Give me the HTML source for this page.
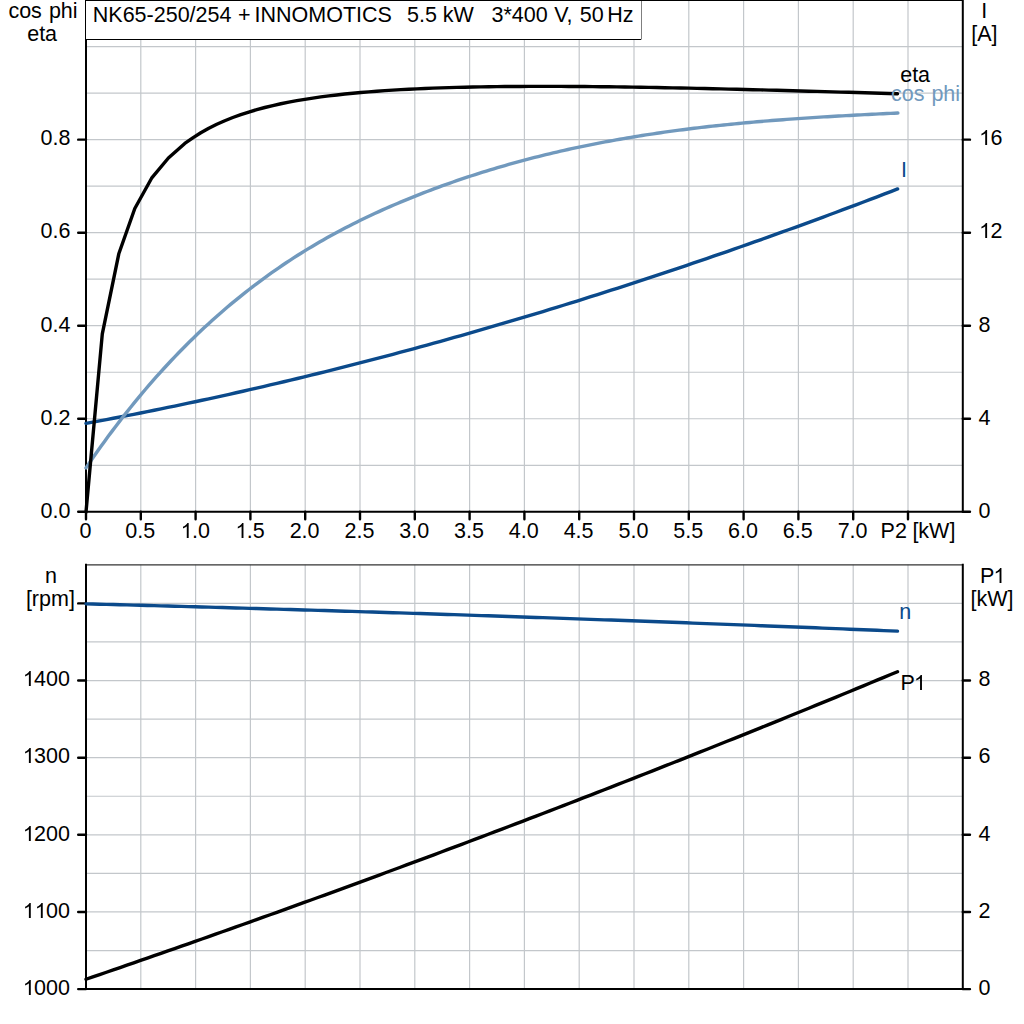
<!DOCTYPE html><html><head><meta charset="utf-8"><style>html,body{margin:0;padding:0;background:#fff;}svg{display:block}</style></head><body>
<svg width="1024" height="1024" viewBox="0 0 1024 1024" style="font-family:'Liberation Sans', sans-serif;font-size:21.5px">
<rect width="1024" height="1024" fill="#fff"/>
<path d="M140.80 0V511.80M140.80 564.83V989.10M195.60 0V511.80M195.60 564.83V989.10M250.40 0V511.80M250.40 564.83V989.10M305.20 0V511.80M305.20 564.83V989.10M360.00 0V511.80M360.00 564.83V989.10M414.80 0V511.80M414.80 564.83V989.10M469.60 0V511.80M469.60 564.83V989.10M524.40 0V511.80M524.40 564.83V989.10M579.20 0V511.80M579.20 564.83V989.10M634.00 0V511.80M634.00 564.83V989.10M688.80 0V511.80M688.80 564.83V989.10M743.60 0V511.80M743.60 564.83V989.10M798.40 0V511.80M798.40 564.83V989.10M853.20 0V511.80M853.20 564.83V989.10M908.00 0V511.80M908.00 564.83V989.10M86.00 465.28H962.80M86.00 950.53H962.80M86.00 418.76H962.80M86.00 911.96H962.80M86.00 372.24H962.80M86.00 873.39H962.80M86.00 325.72H962.80M86.00 834.82H962.80M86.00 279.20H962.80M86.00 796.25H962.80M86.00 232.68H962.80M86.00 757.68H962.80M86.00 186.16H962.80M86.00 719.11H962.80M86.00 139.64H962.80M86.00 680.54H962.80M86.00 93.12H962.80M86.00 641.97H962.80M86.00 46.60H962.80M86.00 603.40H962.80" stroke="#c3c7cb" stroke-width="1.2" fill="none"/>
<path d="M86.0 0.5H962.8" stroke="#000" stroke-width="1.2"/>
<path d="M86.0 564.83H962.8" stroke="#333" stroke-width="1.2"/>
<path d="M86.0 0V511.8M962.8 0V511.8M86.0 511.8H962.8M86.0 564.83V989.1M962.8 564.83V989.1M86.0 989.1H962.8" stroke="#000" stroke-width="2" fill="none" stroke-linecap="square"/>
<path d="M78.2 511.80H86.0M962.8 511.80H970M78.2 418.76H86.0M962.8 418.76H970M78.2 325.72H86.0M962.8 325.72H970M78.2 232.68H86.0M962.8 232.68H970M78.2 139.64H86.0M962.8 139.64H970M86.00 511.8V519.3M140.80 511.8V519.3M195.60 511.8V519.3M250.40 511.8V519.3M305.20 511.8V519.3M360.00 511.8V519.3M414.80 511.8V519.3M469.60 511.8V519.3M524.40 511.8V519.3M579.20 511.8V519.3M634.00 511.8V519.3M688.80 511.8V519.3M743.60 511.8V519.3M798.40 511.8V519.3M853.20 511.8V519.3M908.00 511.8V519.3M78.2 989.10H86.0M78.2 911.96H86.0M78.2 834.82H86.0M78.2 757.68H86.0M78.2 680.54H86.0M78.2 603.40H86.0M962.8 989.10H970M962.8 911.96H970M962.8 834.82H970M962.8 757.68H970M962.8 680.54H970" stroke="#000" stroke-width="2.4" fill="none" stroke-linecap="round"/>
<path d="M86.00 423.38 L92.82 422.12 L99.64 420.85 L106.46 419.57 L113.28 418.27 L120.10 416.97 L126.92 415.65 L133.74 414.31 L140.56 412.96 L147.38 411.60 L154.20 410.23 L161.02 408.85 L167.84 407.45 L174.66 406.04 L181.48 404.61 L188.30 403.18 L195.12 401.73 L201.94 400.26 L208.76 398.79 L215.58 397.30 L222.40 395.80 L229.22 394.29 L236.04 392.76 L242.86 391.23 L249.68 389.68 L256.50 388.11 L263.32 386.54 L270.14 384.95 L276.96 383.35 L283.78 381.74 L290.61 380.11 L297.43 378.48 L304.25 376.83 L311.07 375.16 L317.89 373.49 L324.71 371.80 L331.53 370.10 L338.35 368.39 L345.17 366.67 L351.99 364.93 L358.81 363.19 L365.63 361.43 L372.45 359.66 L379.27 357.87 L386.09 356.08 L392.91 354.27 L399.73 352.45 L406.55 350.62 L413.37 348.77 L420.19 346.92 L427.01 345.05 L433.83 343.17 L440.65 341.28 L447.47 339.38 L454.29 337.46 L461.11 335.54 L467.93 333.60 L474.75 331.65 L481.57 329.69 L488.39 327.72 L495.21 325.73 L502.03 323.74 L508.85 321.73 L515.67 319.71 L522.49 317.68 L529.31 315.63 L536.13 313.58 L542.95 311.52 L549.77 309.44 L556.59 307.35 L563.41 305.25 L570.23 303.14 L577.05 301.02 L583.87 298.88 L590.69 296.74 L597.51 294.58 L604.33 292.42 L611.15 290.24 L617.97 288.05 L624.79 285.85 L631.61 283.64 L638.43 281.41 L645.25 279.18 L652.07 276.93 L658.89 274.68 L665.71 272.41 L672.53 270.13 L679.35 267.84 L686.17 265.54 L692.99 263.23 L699.82 260.91 L706.64 258.58 L713.46 256.23 L720.28 253.88 L727.10 251.52 L733.92 249.14 L740.74 246.75 L747.56 244.36 L754.38 241.95 L761.20 239.53 L768.02 237.10 L774.84 234.66 L781.66 232.21 L788.48 229.75 L795.30 227.28 L802.12 224.80 L808.94 222.30 L815.76 219.80 L822.58 217.29 L829.40 214.77 L836.22 212.23 L843.04 209.69 L849.86 207.13 L856.68 204.57 L863.50 201.99 L870.32 199.41 L877.14 196.81 L883.96 194.21 L890.78 191.59 L897.60 188.96" stroke="#0b4a8b" stroke-width="3.4" fill="none" stroke-linecap="round" stroke-linejoin="round"/>
<path d="M86.00 467.86 L89.71 462.43 L93.41 457.07 L97.12 451.78 L100.83 446.57 L104.54 441.43 L108.24 436.37 L111.95 431.37 L115.66 426.45 L119.37 421.60 L123.07 416.81 L126.78 412.09 L130.49 407.44 L134.19 402.86 L137.90 398.34 L141.61 393.89 L145.32 389.50 L149.02 385.18 L152.73 380.92 L156.44 376.72 L160.15 372.58 L163.85 368.50 L167.56 364.48 L171.27 360.51 L174.98 356.61 L178.68 352.76 L182.39 348.97 L186.10 345.23 L189.80 341.55 L193.51 337.92 L197.22 334.34 L200.93 330.82 L204.63 327.35 L208.34 323.92 L212.05 320.55 L215.76 317.23 L219.46 313.96 L223.17 310.73 L226.88 307.55 L230.58 304.42 L234.29 301.34 L238.00 298.31 L241.71 295.31 L245.41 292.37 L249.12 289.47 L252.83 286.61 L256.54 283.80 L260.24 281.03 L263.95 278.30 L267.66 275.61 L271.37 272.97 L275.07 270.36 L278.78 267.80 L282.49 265.27 L286.19 262.78 L289.90 260.34 L293.61 257.93 L297.32 255.55 L301.02 253.22 L304.73 250.91 L308.44 248.65 L312.15 246.42 L315.85 244.22 L319.56 242.06 L323.27 239.93 L326.97 237.84 L330.68 235.77 L334.39 233.74 L338.10 231.74 L341.80 229.77 L345.51 227.82 L349.22 225.91 L352.93 224.03 L356.63 222.17 L360.34 220.34 L364.05 218.54 L367.76 216.77 L371.46 215.02 L375.17 213.30 L378.88 211.60 L382.58 209.92 L386.29 208.27 L390.00 206.64 L393.71 205.04 L397.41 203.45 L401.12 201.89 L404.83 200.35 L408.54 198.83 L412.24 197.33 L415.95 195.84 L419.66 194.38 L423.36 192.93 L427.07 191.50 L430.78 190.09 L434.49 188.70 L438.19 187.33 L441.90 185.97 L445.61 184.64 L449.32 183.32 L453.02 182.01 L456.73 180.73 L460.44 179.46 L464.15 178.21 L467.85 176.97 L471.56 175.75 L475.27 174.55 L478.97 173.36 L482.68 172.20 L486.39 171.04 L490.10 169.91 L493.80 168.79 L497.51 167.68 L501.22 166.59 L504.93 165.52 L508.63 164.46 L512.34 163.42 L516.05 162.39 L519.75 161.38 L523.46 160.38 L527.17 159.40 L530.88 158.43 L534.58 157.47 L538.29 156.53 L542.00 155.61 L545.71 154.70 L549.41 153.80 L553.12 152.92 L556.83 152.05 L560.54 151.19 L564.24 150.35 L567.95 149.52 L571.66 148.70 L575.36 147.90 L579.07 147.11 L582.78 146.33 L586.49 145.56 L590.19 144.81 L593.90 144.07 L597.61 143.34 L601.32 142.63 L605.02 141.93 L608.73 141.23 L612.44 140.55 L616.14 139.89 L619.85 139.23 L623.56 138.58 L627.27 137.95 L630.97 137.33 L634.68 136.71 L638.39 136.11 L642.10 135.52 L645.80 134.94 L649.51 134.37 L653.22 133.81 L656.93 133.26 L660.63 132.72 L664.34 132.19 L668.05 131.67 L671.75 131.16 L675.46 130.66 L679.17 130.17 L682.88 129.69 L686.58 129.22 L690.29 128.75 L694.00 128.30 L697.71 127.85 L701.41 127.41 L705.12 126.98 L708.83 126.56 L712.53 126.15 L716.24 125.74 L719.95 125.35 L723.66 124.96 L727.36 124.58 L731.07 124.20 L734.78 123.84 L738.49 123.48 L742.19 123.13 L745.90 122.78 L749.61 122.44 L753.32 122.11 L757.02 121.79 L760.73 121.47 L764.44 121.15 L768.14 120.85 L771.85 120.55 L775.56 120.26 L779.27 119.97 L782.97 119.69 L786.68 119.41 L790.39 119.14 L794.10 118.87 L797.80 118.61 L801.51 118.35 L805.22 118.10 L808.92 117.86 L812.63 117.62 L816.34 117.38 L820.05 117.15 L823.75 116.92 L827.46 116.69 L831.17 116.47 L834.88 116.26 L838.58 116.04 L842.29 115.83 L846.00 115.63 L849.71 115.43 L853.41 115.23 L857.12 115.03 L860.83 114.84 L864.53 114.65 L868.24 114.46 L871.95 114.27 L875.66 114.09 L879.36 113.91 L883.07 113.73 L886.78 113.56 L890.49 113.38 L894.19 113.21 L897.90 113.04" stroke="#7199bd" stroke-width="3.4" fill="none" stroke-linecap="round" stroke-linejoin="round"/>
<path d="M86.00 512.00 L102.30 333.80 L118.80 253.80 L134.80 208.50 L151.60 178.20 L168.40 158.00 L184.80 143.40 L192.80 137.88 L200.80 132.79 L208.80 128.29 L216.80 124.28 L224.80 120.71 L232.80 117.50 L240.80 114.61 L248.80 112.01 L256.80 109.65 L264.80 107.50 L272.80 105.56 L280.80 103.78 L288.80 102.16 L296.80 100.68 L304.80 99.32 L312.80 98.08 L320.80 96.94 L328.80 95.90 L336.80 94.94 L344.80 94.06 L352.80 93.26 L360.80 92.52 L368.80 91.84 L376.80 91.22 L384.80 90.65 L392.80 90.14 L400.80 89.66 L408.80 89.23 L416.80 88.84 L424.80 88.49 L432.80 88.17 L440.80 87.89 L448.80 87.63 L456.80 87.40 L464.80 87.20 L472.80 87.03 L480.80 86.88 L488.80 86.75 L496.80 86.64 L504.80 86.56 L512.80 86.49 L520.80 86.44 L528.80 86.40 L536.80 86.38 L544.80 86.38 L552.80 86.39 L560.80 86.42 L568.80 86.45 L576.80 86.50 L584.80 86.56 L592.80 86.64 L600.80 86.72 L608.80 86.81 L616.80 86.91 L624.80 87.02 L632.80 87.14 L640.80 87.27 L648.80 87.40 L656.80 87.54 L664.80 87.69 L672.80 87.85 L680.80 88.01 L688.80 88.17 L696.80 88.35 L704.80 88.52 L712.80 88.71 L720.80 88.89 L728.80 89.08 L736.80 89.28 L744.80 89.48 L752.80 89.68 L760.80 89.89 L768.80 90.10 L776.80 90.31 L784.80 90.52 L792.80 90.74 L800.80 90.96 L808.80 91.18 L816.80 91.40 L824.80 91.63 L832.80 91.86 L840.80 92.09 L848.80 92.32 L856.80 92.55 L864.80 92.78 L872.80 93.01 L880.80 93.25 L888.80 93.48 L896.80 93.72 L897.50 93.74" stroke="#000" stroke-width="3.4" fill="none" stroke-linecap="round" stroke-linejoin="round"/>
<path d="M86.00 603.83 L92.82 604.01 L99.64 604.19 L106.46 604.37 L113.28 604.55 L120.10 604.73 L126.92 604.91 L133.74 605.09 L140.55 605.28 L147.37 605.46 L154.19 605.64 L161.01 605.83 L167.83 606.02 L174.65 606.21 L181.47 606.39 L188.29 606.58 L195.11 606.78 L201.93 606.97 L208.75 607.16 L215.57 607.35 L222.39 607.55 L229.21 607.74 L236.03 607.94 L242.84 608.13 L249.66 608.33 L256.48 608.53 L263.30 608.73 L270.12 608.93 L276.94 609.13 L283.76 609.33 L290.58 609.54 L297.40 609.74 L304.22 609.94 L311.04 610.15 L317.86 610.36 L324.68 610.56 L331.50 610.77 L338.32 610.98 L345.13 611.19 L351.95 611.40 L358.77 611.61 L365.59 611.83 L372.41 612.04 L379.23 612.26 L386.05 612.47 L392.87 612.69 L399.69 612.90 L406.51 613.12 L413.33 613.34 L420.15 613.56 L426.97 613.78 L433.79 614.00 L440.61 614.23 L447.42 614.45 L454.24 614.67 L461.06 614.90 L467.88 615.12 L474.70 615.35 L481.52 615.58 L488.34 615.81 L495.16 616.04 L501.98 616.27 L508.80 616.50 L515.62 616.73 L522.44 616.96 L529.26 617.20 L536.08 617.43 L542.89 617.67 L549.71 617.91 L556.53 618.14 L563.35 618.38 L570.17 618.62 L576.99 618.86 L583.81 619.10 L590.63 619.34 L597.45 619.59 L604.27 619.83 L611.09 620.07 L617.91 620.32 L624.73 620.57 L631.55 620.81 L638.37 621.06 L645.18 621.31 L652.00 621.56 L658.82 621.81 L665.64 622.06 L672.46 622.32 L679.28 622.57 L686.10 622.82 L692.92 623.08 L699.74 623.33 L706.56 623.59 L713.38 623.85 L720.20 624.11 L727.02 624.37 L733.84 624.63 L740.66 624.89 L747.47 625.15 L754.29 625.41 L761.11 625.68 L767.93 625.94 L774.75 626.21 L781.57 626.48 L788.39 626.74 L795.21 627.01 L802.03 627.28 L808.85 627.55 L815.67 627.82 L822.49 628.09 L829.31 628.37 L836.13 628.64 L842.95 628.92 L849.76 629.19 L856.58 629.47 L863.40 629.75 L870.22 630.02 L877.04 630.30 L883.86 630.58 L890.68 630.86 L897.50 631.15" stroke="#0b4a8b" stroke-width="3.4" fill="none" stroke-linecap="round" stroke-linejoin="round"/>
<path d="M86.00 979.26 L92.82 976.93 L99.64 974.59 L106.46 972.24 L113.28 969.90 L120.10 967.55 L126.92 965.19 L133.74 962.83 L140.55 960.47 L147.37 958.10 L154.19 955.72 L161.01 953.35 L167.83 950.97 L174.65 948.58 L181.47 946.19 L188.29 943.80 L195.11 941.40 L201.93 939.00 L208.75 936.59 L215.57 934.18 L222.39 931.76 L229.21 929.34 L236.03 926.92 L242.84 924.49 L249.66 922.06 L256.48 919.62 L263.30 917.18 L270.12 914.74 L276.94 912.29 L283.76 909.84 L290.58 907.38 L297.40 904.92 L304.22 902.45 L311.04 899.98 L317.86 897.51 L324.68 895.03 L331.50 892.55 L338.32 890.06 L345.13 887.57 L351.95 885.07 L358.77 882.57 L365.59 880.07 L372.41 877.56 L379.23 875.05 L386.05 872.53 L392.87 870.01 L399.69 867.48 L406.51 864.95 L413.33 862.42 L420.15 859.88 L426.97 857.34 L433.79 854.79 L440.61 852.24 L447.42 849.69 L454.24 847.13 L461.06 844.57 L467.88 842.00 L474.70 839.43 L481.52 836.85 L488.34 834.27 L495.16 831.69 L501.98 829.10 L508.80 826.50 L515.62 823.91 L522.44 821.30 L529.26 818.70 L536.08 816.09 L542.89 813.47 L549.71 810.86 L556.53 808.23 L563.35 805.61 L570.17 802.98 L576.99 800.34 L583.81 797.70 L590.63 795.06 L597.45 792.41 L604.27 789.76 L611.09 787.10 L617.91 784.44 L624.73 781.77 L631.55 779.10 L638.37 776.43 L645.18 773.75 L652.00 771.07 L658.82 768.38 L665.64 765.69 L672.46 763.00 L679.28 760.30 L686.10 757.60 L692.92 754.89 L699.74 752.18 L706.56 749.46 L713.38 746.74 L720.20 744.02 L727.02 741.29 L733.84 738.56 L740.66 735.82 L747.47 733.08 L754.29 730.33 L761.11 727.58 L767.93 724.83 L774.75 722.07 L781.57 719.31 L788.39 716.54 L795.21 713.77 L802.03 710.99 L808.85 708.22 L815.67 705.43 L822.49 702.64 L829.31 699.85 L836.13 697.06 L842.95 694.25 L849.76 691.45 L856.58 688.64 L863.40 685.83 L870.22 683.01 L877.04 680.19 L883.86 677.36 L890.68 674.53 L897.50 671.70" stroke="#000" stroke-width="3.4" fill="none" stroke-linecap="round" stroke-linejoin="round"/>
<path d="M85.5 39.5H641M641 0V39.5" stroke="#000" stroke-width="1" fill="none"/>
<rect x="86" y="1" width="555" height="38" fill="#fff"/>
<text x="92.80" y="22" text-anchor="start" fill="#000">NK65-250/254</text>
<text x="237.90" y="22" text-anchor="start" fill="#000">+</text>
<text x="254.50" y="22" text-anchor="start" fill="#000">INNOMOTICS</text>
<text x="407.00" y="22" text-anchor="start" fill="#000">5.5</text>
<text x="442.80" y="22" text-anchor="start" fill="#000">kW</text>
<text x="491.50" y="22" text-anchor="start" fill="#000">3*400</text>
<text x="554.25" y="22" text-anchor="start" fill="#000">V,</text>
<text x="579.80" y="22" text-anchor="start" fill="#000">50</text>
<text x="607.20" y="22" text-anchor="start" fill="#000">Hz</text>
<text x="8.40" y="18" text-anchor="start" fill="#000">cos</text>
<text x="48.90" y="18" text-anchor="start" fill="#000">phi</text>
<text x="27.20" y="41" text-anchor="start" fill="#000">eta</text>
<text x="981.30" y="18" text-anchor="start" fill="#000">I</text>
<text x="971.20" y="41" text-anchor="start" fill="#000">[A]</text>
<text x="70.50" y="518" text-anchor="end" fill="#000">0.0</text>
<text x="70.50" y="425" text-anchor="end" fill="#000">0.2</text>
<text x="70.50" y="332" text-anchor="end" fill="#000">0.4</text>
<text x="70.50" y="238" text-anchor="end" fill="#000">0.6</text>
<text x="70.50" y="145" text-anchor="end" fill="#000">0.8</text>
<text x="978.50" y="518" text-anchor="start" fill="#000">0</text>
<text x="978.50" y="425" text-anchor="start" fill="#000">4</text>
<text x="978.50" y="332" text-anchor="start" fill="#000">8</text>
<path d="M820 0L640 0L640 1119C597 1079 540 1039 470 999C400 959 337 929 280 908L280 1078C380 1124 467 1179 542 1244C617 1308 670 1370 701 1430L820 1430Z" fill="#000" transform="translate(978.50 238) scale(0.010498 -0.010498)"/>
<text x="978.50" y="238" text-anchor="start" fill="#000"> 2</text>
<path d="M820 0L640 0L640 1119C597 1079 540 1039 470 999C400 959 337 929 280 908L280 1078C380 1124 467 1179 542 1244C617 1308 670 1370 701 1430L820 1430Z" fill="#000" transform="translate(978.50 145) scale(0.010498 -0.010498)"/>
<text x="978.50" y="145" text-anchor="start" fill="#000"> 6</text>
<text x="85.40" y="538" text-anchor="middle" fill="#000">0</text>
<text x="140.20" y="538" text-anchor="middle" fill="#000">0.5</text>
<path d="M820 0L640 0L640 1119C597 1079 540 1039 470 999C400 959 337 929 280 908L280 1078C380 1124 467 1179 542 1244C617 1308 670 1370 701 1430L820 1430Z" fill="#000" transform="translate(180.06 538) scale(0.010498 -0.010498)"/>
<text x="195.00" y="538" text-anchor="middle" fill="#000"> .0</text>
<path d="M820 0L640 0L640 1119C597 1079 540 1039 470 999C400 959 337 929 280 908L280 1078C380 1124 467 1179 542 1244C617 1308 670 1370 701 1430L820 1430Z" fill="#000" transform="translate(234.86 538) scale(0.010498 -0.010498)"/>
<text x="249.80" y="538" text-anchor="middle" fill="#000"> .5</text>
<text x="304.60" y="538" text-anchor="middle" fill="#000">2.0</text>
<text x="359.40" y="538" text-anchor="middle" fill="#000">2.5</text>
<text x="414.20" y="538" text-anchor="middle" fill="#000">3.0</text>
<text x="469.00" y="538" text-anchor="middle" fill="#000">3.5</text>
<text x="523.80" y="538" text-anchor="middle" fill="#000">4.0</text>
<text x="578.60" y="538" text-anchor="middle" fill="#000">4.5</text>
<text x="633.40" y="538" text-anchor="middle" fill="#000">5.0</text>
<text x="688.20" y="538" text-anchor="middle" fill="#000">5.5</text>
<text x="743.00" y="538" text-anchor="middle" fill="#000">6.0</text>
<text x="797.80" y="538" text-anchor="middle" fill="#000">6.5</text>
<text x="852.60" y="538" text-anchor="middle" fill="#000">7.0</text>
<text x="880.60" y="538" text-anchor="start" fill="#000">P2</text>
<text x="912.40" y="538" text-anchor="start" fill="#000">[kW]</text>
<text x="51.00" y="583" text-anchor="middle" fill="#000">n</text>
<text x="25.90" y="606" text-anchor="start" fill="#000">[rpm]</text>
<path d="M820 0L640 0L640 1119C597 1079 540 1039 470 999C400 959 337 929 280 908L280 1078C380 1124 467 1179 542 1244C617 1308 670 1370 701 1430L820 1430Z" fill="#000" transform="translate(992.84 583) scale(0.010498 -0.010498)"/>
<text x="980.00" y="583" text-anchor="start" fill="#000">P </text>
<text x="970.50" y="606" text-anchor="start" fill="#000">[kW]</text>
<path d="M820 0L640 0L640 1119C597 1079 540 1039 470 999C400 959 337 929 280 908L280 1078C380 1124 467 1179 542 1244C617 1308 670 1370 701 1430L820 1430Z" fill="#000" transform="translate(22.17 995) scale(0.010498 -0.010498)"/>
<text x="70.00" y="995" text-anchor="end" fill="#000"> 000</text>
<path d="M820 0L640 0L640 1119C597 1079 540 1039 470 999C400 959 337 929 280 908L280 1078C380 1124 467 1179 542 1244C617 1308 670 1370 701 1430L820 1430Z" fill="#000" transform="translate(22.17 918) scale(0.010498 -0.010498)"/>
<path d="M820 0L640 0L640 1119C597 1079 540 1039 470 999C400 959 337 929 280 908L280 1078C380 1124 467 1179 542 1244C617 1308 670 1370 701 1430L820 1430Z" fill="#000" transform="translate(34.13 918) scale(0.010498 -0.010498)"/>
<text x="70.00" y="918" text-anchor="end" fill="#000">  00</text>
<path d="M820 0L640 0L640 1119C597 1079 540 1039 470 999C400 959 337 929 280 908L280 1078C380 1124 467 1179 542 1244C617 1308 670 1370 701 1430L820 1430Z" fill="#000" transform="translate(22.17 841) scale(0.010498 -0.010498)"/>
<text x="70.00" y="841" text-anchor="end" fill="#000"> 200</text>
<path d="M820 0L640 0L640 1119C597 1079 540 1039 470 999C400 959 337 929 280 908L280 1078C380 1124 467 1179 542 1244C617 1308 670 1370 701 1430L820 1430Z" fill="#000" transform="translate(22.17 763) scale(0.010498 -0.010498)"/>
<text x="70.00" y="763" text-anchor="end" fill="#000"> 300</text>
<path d="M820 0L640 0L640 1119C597 1079 540 1039 470 999C400 959 337 929 280 908L280 1078C380 1124 467 1179 542 1244C617 1308 670 1370 701 1430L820 1430Z" fill="#000" transform="translate(22.17 686) scale(0.010498 -0.010498)"/>
<text x="70.00" y="686" text-anchor="end" fill="#000"> 400</text>
<text x="978.50" y="995" text-anchor="start" fill="#000">0</text>
<text x="978.50" y="918" text-anchor="start" fill="#000">2</text>
<text x="978.50" y="841" text-anchor="start" fill="#000">4</text>
<text x="978.50" y="763" text-anchor="start" fill="#000">6</text>
<text x="978.50" y="686" text-anchor="start" fill="#000">8</text>
<text x="900.20" y="82" text-anchor="start" fill="#000">eta</text>
<text x="891.00" y="101" text-anchor="start" fill="#7199bd">cos</text>
<text x="931.40" y="101" text-anchor="start" fill="#7199bd">phi</text>
<text x="901.00" y="177" text-anchor="start" fill="#0b4a8b">I</text>
<text x="899.30" y="619" text-anchor="start" fill="#0b4a8b">n</text>
<path d="M820 0L640 0L640 1119C597 1079 540 1039 470 999C400 959 337 929 280 908L280 1078C380 1124 467 1179 542 1244C617 1308 670 1370 701 1430L820 1430Z" fill="#000" transform="translate(913.34 690) scale(0.010498 -0.010498)"/>
<text x="900.50" y="690" text-anchor="start" fill="#000">P </text>
</svg></body></html>
